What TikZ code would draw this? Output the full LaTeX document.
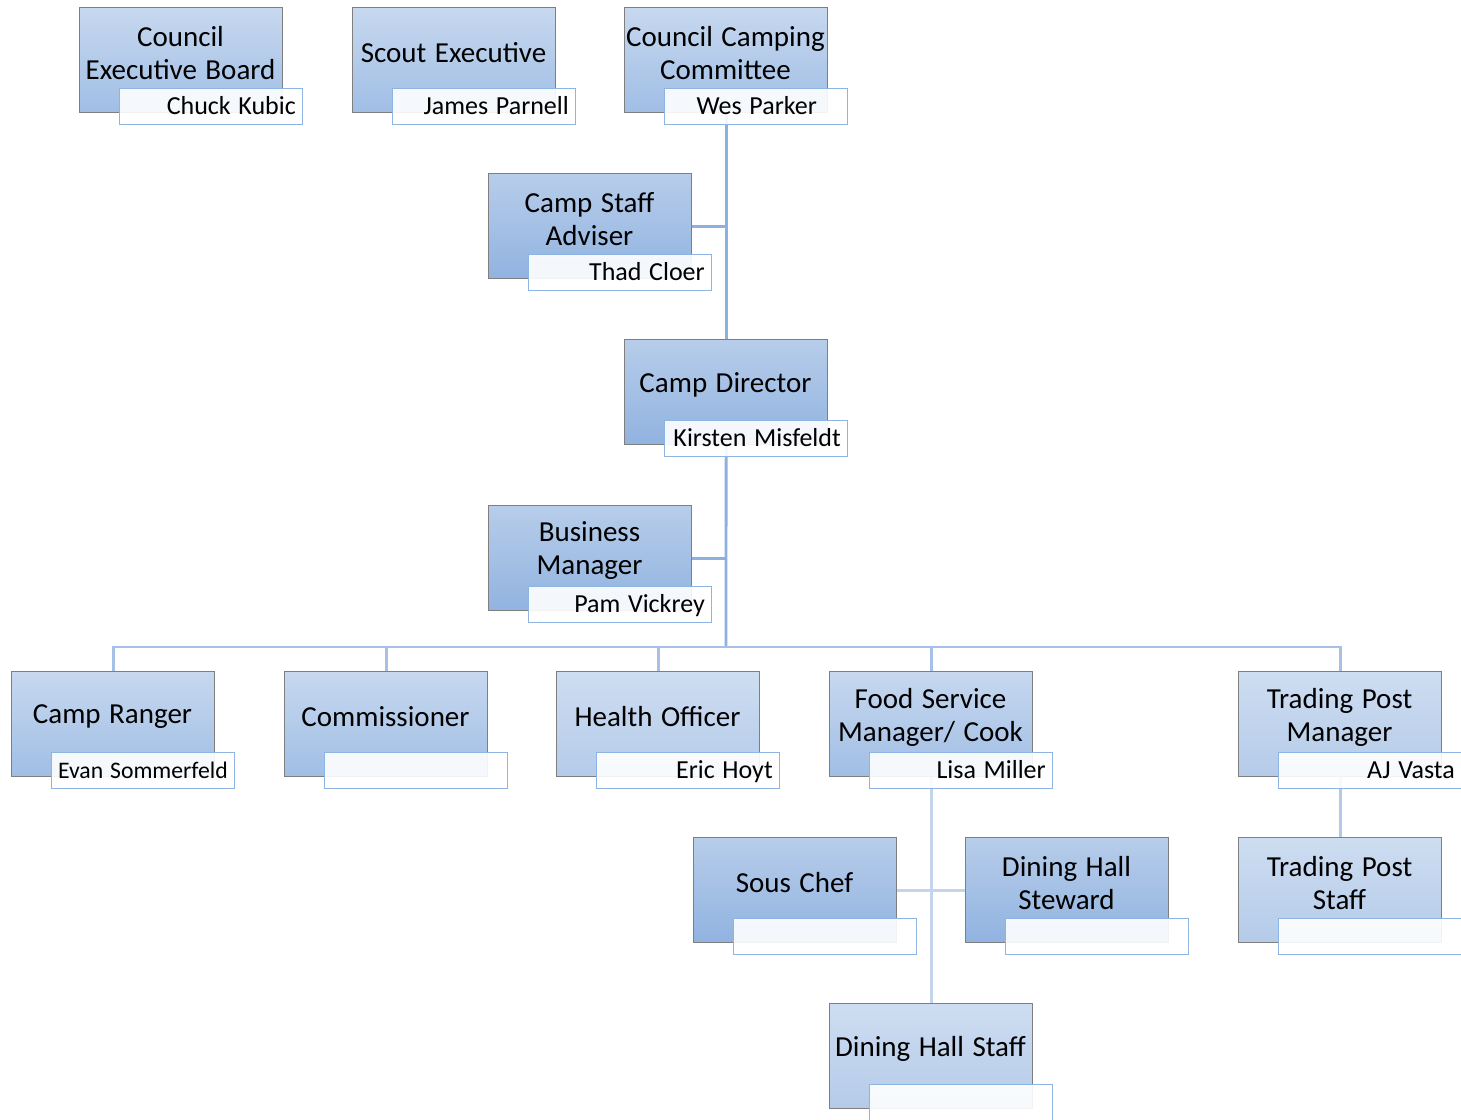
\documentclass[tikz,border=0pt]{standalone}
\usepackage{fontspec}
\setmainfont{Carlito}[WordSpace={1.3,1,1}]
\usetikzlibrary{backgrounds}
\definecolor{boxborder}{HTML}{7F7F7F}
\definecolor{namebd}{HTML}{8EB4E3}
\definecolor{midtop}{HTML}{C7D8EF}
\definecolor{midbot}{HTML}{A0BEE5}
\definecolor{darktop}{HTML}{B7CDEA}
\definecolor{darkbot}{HTML}{91B3E0}
\definecolor{lighttop}{HTML}{CEDDF1}
\definecolor{lightbot}{HTML}{B4CBE9}
\definecolor{upline}{HTML}{8DB1DF}
\definecolor{busline}{HTML}{A6C1E5}
\definecolor{foodline}{HTML}{C3D4EB}
\definecolor{tpline}{HTML}{B3C9E8}
\tikzset{
  boxbase/.style={rectangle, draw=boxborder, line width=1.3pt, minimum width=203pt,
    minimum height=105pt, inner sep=0pt, anchor=north west},
  lvlmid/.style={boxbase, top color=midtop, bottom color=midbot},
  lvldark/.style={boxbase, top color=darktop, bottom color=darkbot},
  lvllight/.style={boxbase, top color=lighttop, bottom color=lightbot},
  namebox/.style={rectangle, draw=namebd, line width=1.2pt, fill=white, fill opacity=0.9,
    minimum width=183pt, minimum height=36pt, inner sep=0pt, anchor=north west},
  nametext/.style={anchor=base east, inner sep=0pt},
  titletext/.style={align=center, font=\fontsize{29}{33}\selectfont, inner sep=0pt},
  conn/.style={line width=2.8pt}
}
% #1 name, #2 x, #3 y, #4 style, #5 title, #6 person, #7 person font size
\newcommand\orgunit[7]{%
  \node[#4] (#1) at (#2,#3) {};
  \node[titletext] (#1T) at (#2+101.5,#3+46) {#5};
  \node[namebox] (#1N) at (#2+40,#3+81) {};
  \node[nametext, font=\fontsize{#7}{30}\selectfont] (#1P) at (#2+217,#3+107) {#6};
}
\begin{document}
\begin{tikzpicture}[x=1pt,y=-1pt]
\useasboundingbox (0,0) rectangle (1461,1119);
\orgunit{ceb}{79}{7}{lvlmid}{Council\\Executive Board}{Chuck Kubic}{26}
\orgunit{se}{352}{7}{lvlmid}{Scout Executive}{James Parnell}{26}
\orgunit{ccc}{624}{7}{lvlmid}{Council Camping\\Committee}{Wes Parker\rule{24pt}{0pt}}{26}
\orgunit{csa}{488}{173}{lvldark}{Camp Staff\\Adviser}{Thad Cloer}{26}
\orgunit{cd}{624}{339}{lvldark}{Camp Director}{Kirsten Misfeldt}{26}
\orgunit{bm}{488}{505}{lvldark}{Business\\Manager}{Pam Vickrey}{26}
\orgunit{cr}{11}{671}{lvlmid}{Camp Ranger}{Evan Sommerfeld}{23.7}
\orgunit{com}{284}{671}{lvlmid}{Commissioner}{}{26}
\orgunit{ho}{556}{671}{lvllight}{Health Officer}{Eric Hoyt}{26}
\orgunit{fs}{829}{671}{lvlmid}{Food Service\\Manager/ Cook}{Lisa Miller}{26}
\orgunit{tpm}{1238}{671}{lvllight}{Trading Post\\Manager}{AJ Vasta}{26}
\orgunit{sc}{693}{837}{lvldark}{Sous Chef}{}{26}
\orgunit{dhst}{965}{837}{lvldark}{Dining Hall\\Steward}{}{26}
\orgunit{tps}{1238}{837}{lvllight}{Trading Post\\Staff}{}{26}
\orgunit{dhs}{829}{1003}{lvllight}{Dining Hall Staff}{}{26}
\coordinate (bus) at (726,647);
\begin{scope}[on background layer]
  \fill[white] (0,0) rectangle (1461,1119);
  \draw[conn, upline] (ccc.south) -- (cd.north);
  \draw[conn, upline] (csa.east) -- (csa.east -| ccc.south);
  \draw[conn, upline] (cd.south) -- (bus);
  \draw[conn, upline] (bm.east) -- (bm.east -| cd.south);
  \draw[conn, busline] (bus) -| (cr.north);
  \draw[conn, busline] (bus) -| (com.north);
  \draw[conn, busline] (bus) -| (ho.north);
  \draw[conn, busline] (bus) -| (fs.north);
  \draw[conn, busline] (bus) -| (tpm.north);
  \draw[conn, foodline] (fs.south) -- (dhs.north);
  \draw[conn, foodline] (sc.east) -- (dhst.west);
  \draw[conn, tpline] (tpm.south) -- (tps.north);
\end{scope}
\end{tikzpicture}
\end{document}
